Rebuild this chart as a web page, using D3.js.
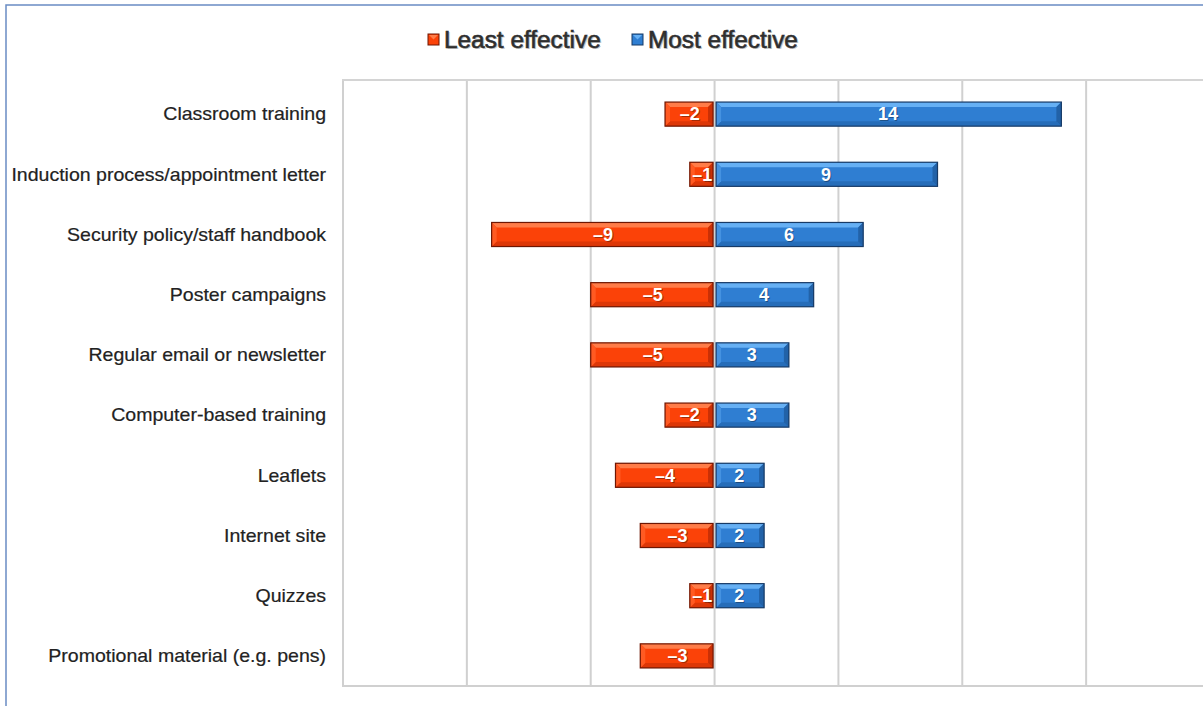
<!DOCTYPE html>
<html>
<head>
<meta charset="utf-8">
<script src="https://cdn.jsdelivr.net/npm/d3@7"></script>
<style>
  html, body { margin: 0; padding: 0; background: #fff; }
  svg { display: block; }
</style>
</head>
<body>
<svg id="chart" width="1203" height="706"></svg>
<script>
// Survey: effectiveness of security awareness methods
const categories = [
  "Classroom training",
  "Induction process/appointment letter",
  "Security policy/staff handbook",
  "Poster campaigns",
  "Regular email or newsletter",
  "Computer-based training",
  "Leaflets",
  "Internet site",
  "Quizzes",
  "Promotional material (e.g. pens)"
];
const leastEffective = [-2, -1, -9, -5, -5, -2, -4, -3, -1, -3];
const mostEffective  = [14, 9, 6, 4, 3, 3, 2, 2, 2, null];
const seriesNames = ["Least effective", "Most effective"];
const xTicks = [-15, -10, -5, 0, 5, 10, 15, 20];

const svg = d3.select("#chart");
const W = 1203, H = 706;
const FONT = "Liberation Sans, Arial, sans-serif";

// outer chart frame
svg.append("rect")
  .attr("x", 6).attr("y", 5).attr("width", W + 10).attr("height", H + 10)
  .attr("fill", "#fff").attr("stroke", "#6a8cc4").attr("stroke-width", 1.5);

const plot = { left: 343, right: 1210, top: 80, bottom: 686 };

const x = d3.scaleLinear().domain([-15, 20]).range([plot.left, plot.right]);
const y = d3.scaleBand().domain(categories).range([84, plot.bottom]).paddingInner(0.6).paddingOuter(0.3);

// plot area border + gridlines
const grid = svg.append("g");
grid.selectAll("line.v").data(xTicks).join("line")
  .attr("x1", d => x(d)).attr("x2", d => x(d))
  .attr("y1", plot.top).attr("y2", plot.bottom)
  .attr("stroke", "#d0d0d0").attr("stroke-width", 2);
grid.append("line")
  .attr("x1", plot.left - 1).attr("x2", W)
  .attr("y1", plot.top).attr("y2", plot.top)
  .attr("stroke", "#d4d4d4").attr("stroke-width", 2);
grid.append("line")
  .attr("x1", plot.left - 1).attr("x2", W)
  .attr("y1", plot.bottom).attr("y2", plot.bottom)
  .attr("stroke", "#d0d0d0").attr("stroke-width", 2);

// category labels (slightly widened face)
svg.append("g").selectAll("text").data(categories).join("text")
  .attr("transform", d => `translate(326,${y(d) + y.bandwidth() / 2}) scale(1.085,1)`)
  .attr("dy", "0.35em")
  .attr("text-anchor", "end")
  .attr("font-family", FONT)
  .attr("font-size", 18)
  .attr("fill", "#222")
  .attr("stroke", "#222").attr("stroke-width", 0.2)
  .text(d => d);

// beveled bar drawing
const palettes = {
  least: { base: "#fb4208", light: "#ff7c48", dark: "#c93006", side: "#ff5a22", edge: "#6e1602" },
  most:  { base: "#2f7ed2", light: "#66b0f4", dark: "#2262a8", side: "#4592e0", edge: "#173a66" }
};

function drawBars(values, pal, key) {
  const rows = categories.map((c, i) => ({ c, v: values[i] })).filter(d => d.v != null);
  const g = svg.append("g").attr("class", key);
  const bars = g.selectAll("g").data(rows).join("g");
  bars.each(function(d) {
    const sel = d3.select(this);
    const x0 = Math.min(x(0), x(d.v)) + (d.v < 0 ? 0 : 1.5);
    const x1 = Math.max(x(0), x(d.v)) - (d.v < 0 ? 1.5 : 0);
    const y0 = y(d.c), y1 = y0 + y.bandwidth();
    const b = Math.min(5, (x1 - x0) / 2);
    sel.append("rect").attr("x", x0).attr("y", y0).attr("width", x1 - x0).attr("height", y1 - y0)
      .attr("fill", pal.base);
    // top bevel
    sel.append("path").attr("fill", pal.light)
      .attr("d", `M${x0},${y0}L${x1},${y0}L${x1 - b},${y0 + b}L${x0 + b},${y0 + b}Z`);
    // bottom bevel
    sel.append("path").attr("fill", pal.dark).attr("opacity", 0.6)
      .attr("d", `M${x0},${y1}L${x1},${y1}L${x1 - b},${y1 - b}L${x0 + b},${y1 - b}Z`);
    // side bevels
    sel.append("path").attr("fill", pal.side)
      .attr("d", `M${x0},${y0}L${x0 + b},${y0 + b}L${x0 + b},${y1 - b}L${x0},${y1}Z`);
    sel.append("path").attr("fill", pal.dark)
      .attr("d", `M${x1},${y0}L${x1 - b},${y0 + b}L${x1 - b},${y1 - b}L${x1},${y1}Z`);
    sel.append("rect").attr("x", x0).attr("y", y0).attr("width", x1 - x0).attr("height", y1 - y0)
      .attr("fill", "none").attr("stroke", pal.edge).attr("stroke-width", 1.2);
    // value label
    const label = d.v < 0 ? "\u2013" + Math.abs(d.v) : String(d.v);
    const cx = (x(0) + x(d.v)) / 2, cy = (y0 + y1) / 2;
    sel.append("text").attr("x", cx + 1).attr("y", cy + 1).attr("dy", "0.35em")
      .attr("text-anchor", "middle").attr("font-family", FONT)
      .attr("font-weight", "bold").attr("font-size", 18).attr("fill", "rgba(0,0,0,0.35)").text(label);
    sel.append("text").attr("x", cx).attr("y", cy).attr("dy", "0.35em")
      .attr("text-anchor", "middle").attr("font-family", FONT)
      .attr("font-weight", "bold").attr("font-size", 18).attr("fill", "#fff").text(label);
  });
}
drawBars(leastEffective, palettes.least, "least");
drawBars(mostEffective, palettes.most, "most");

// legend
const legendItems = [
  { name: seriesNames[0], pal: palettes.least, x: 428 },
  { name: seriesNames[1], pal: palettes.most, x: 632 }
];
const lg = svg.append("g");
legendItems.forEach(it => {
  const s = 11, x0 = it.x, y0 = 34;
  lg.append("rect").attr("x", x0).attr("y", y0).attr("width", s).attr("height", s)
    .attr("fill", it.pal.base).attr("stroke", it.pal.edge).attr("stroke-width", 1);
  lg.append("path").attr("fill", it.pal.light)
    .attr("d", `M${x0 + 1},${y0 + 1}L${x0 + s - 1},${y0 + 1}L${x0 + s / 2},${y0 + s / 2}Z`);
  const ty = y0 + s / 2;
  lg.append("text").attr("transform", `translate(${x0 + 17.5},${ty + 1.5}) scale(1.06,1)`).attr("dy", "0.35em")
    .attr("font-family", FONT).attr("font-size", 23)
    .attr("fill", "rgba(0,0,0,0.22)").text(it.name);
  lg.append("text").attr("transform", `translate(${x0 + 16},${ty}) scale(1.06,1)`).attr("dy", "0.35em")
    .attr("font-family", FONT).attr("font-size", 23)
    .attr("fill", "#2e2e2e").attr("stroke", "#2e2e2e").attr("stroke-width", 0.6)
    .text(it.name);
});
</script>
</body>
</html>
